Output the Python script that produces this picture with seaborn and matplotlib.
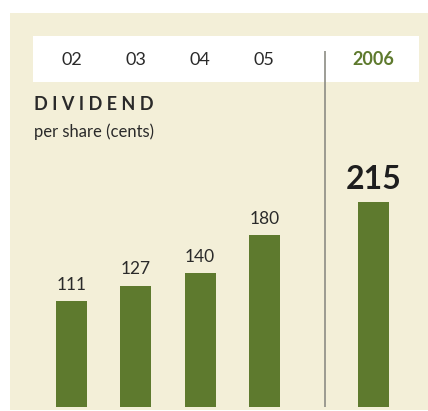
import numpy as np
import pandas as pd
import matplotlib
matplotlib.use("Agg")
import matplotlib.pyplot as plt
from matplotlib.patches import Rectangle
import seaborn as sns

# data
years = ["02", "03", "04", "05", "2006"]
dividend = [111, 127, 140, 180, 215]

# layout: latest year set apart on the right
xpos = [0, 1, 2, 3, 4.7]

GREEN = "#5e7a2e"
BEIGE = "#f3efd8"
TEXT = "#2a2a2a"

sns.set_theme(style="white")
plt.rcParams["font.family"] = ["Lato", "DejaVu Sans"]

df = pd.DataFrame({"x": xpos, "dividend": dividend, "year": years})

fig = plt.figure(figsize=(4.28, 4.11), dpi=100, facecolor="white")
ax = fig.add_axes([10 / 428, 1 - 410 / 411, 418 / 428, 397 / 411])
ax.set_facecolor(BEIGE)

sns.barplot(data=df, x="x", y="dividend", native_scale=True, width=0.48,
            color=GREEN, saturation=1, errorbar=None, ax=ax, zorder=3,
            linewidth=0, edgecolor="none")

ax.set_xlim(-0.956, 5.544)
ax.set_ylim(-3.47, 413.5)
for s in ax.spines.values():
    s.set_visible(False)
ax.set_xticks([])
ax.set_yticks([])
ax.set_xlabel("")
ax.set_ylabel("")

# white band holding the year labels
ax.add_patch(Rectangle((33 / 428, 1 - 82 / 411), 386 / 428, 46 / 411,
                       transform=fig.transFigure, facecolor="white",
                       edgecolor="none", zorder=1, clip_on=False))

# divider between history and current year
ax.vlines(3.94, 0, 373.6, color="#8c8c84", lw=1.2, zorder=4)

# year labels
for x, y in zip(xpos, years):
    last = y == years[-1]
    ax.text(x, 364.5, y, ha="center", va="center", fontsize=13,
            fontweight="bold" if last else "normal",
            color=GREEN if last else TEXT, zorder=5)

# value labels
labels = ax.bar_label(ax.containers[0], labels=[str(v) for v in dividend],
                      padding=6, fontsize=12.5, color=TEXT)
labels[-1].set_fontsize(23)
labels[-1].set_fontweight("bold")
labels[-1].set_color("#1e1e1e")

fig.text(34 / 428, 1 - 105 / 411, "D I V I D E N D", ha="left", va="center",
         fontsize=13, fontweight="bold", color=TEXT)
fig.text(34 / 428, 1 - 132 / 411, "per share (cents)", ha="left", va="center",
         fontsize=12, color=TEXT)

fig.savefig("out.png", dpi=100, facecolor="white")
